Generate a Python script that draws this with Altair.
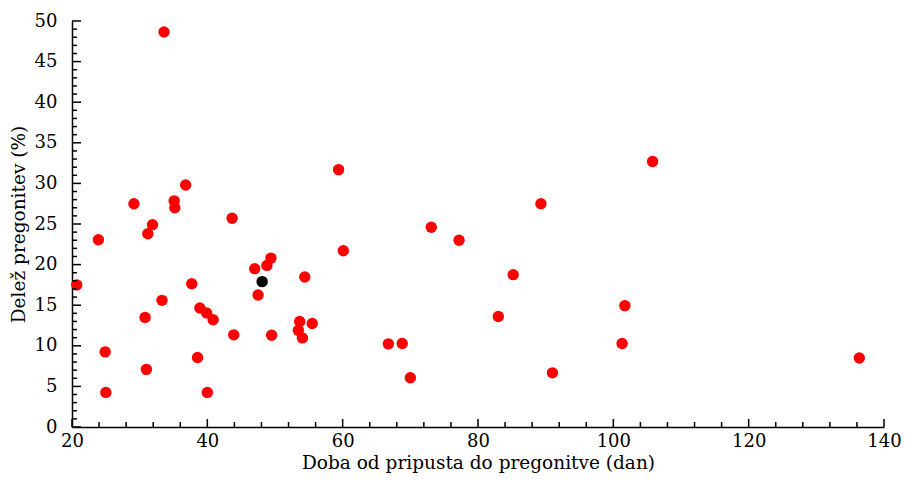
import altair as alt
import pandas as pd

# Red points (days from mating to return, share of returns %)
x_red = [20.7, 23.9, 24.9, 25.0, 29.15, 30.8, 31.0, 31.2, 31.9, 33.3,
         33.6, 35.1, 35.2, 36.8, 37.7, 38.55, 38.9, 39.9, 40.86, 40.0,
         43.66, 43.9, 47.0, 47.5, 48.8, 49.4, 49.5, 53.45, 53.65, 54.05,
         54.4, 55.5, 59.4, 60.1, 66.75, 68.8, 70.0, 73.1, 77.2, 83.0,
         85.2, 89.3, 91.0, 101.3, 101.7, 105.8, 136.35]
y_red = [17.5, 23.06, 9.25, 4.26, 27.5, 13.5, 7.1, 23.8, 24.9, 15.6,
         48.65, 27.85, 27.0, 29.8, 17.65, 8.56, 14.65, 14.05, 13.2, 4.26,
         25.7, 11.35, 19.5, 16.25, 19.9, 20.8, 11.3, 11.9, 13.0, 10.97,
         18.47, 12.74, 31.7, 21.7, 10.24, 10.28, 6.06, 24.6, 23.0, 13.6,
         18.76, 27.5, 6.67, 10.28, 14.95, 32.7, 8.5]
# Black (average) point
x_black = [48.1]
y_black = [17.9]

x_major = [20, 40, 60, 80, 100, 120, 140]
y_major = [0, 5, 10, 15, 20, 25, 30, 35, 40, 45, 50]
x_minor = [v for v in range(24, 140, 4) if v % 20 != 0]
y_minor = [v for v in range(1, 50) if v % 5 != 0]

W, H = 812, 406
FONT = "DejaVu Serif"

pts = pd.DataFrame({
    "x": x_red + x_black,
    "y": y_red + y_black,
    "g": ["red"] * len(x_red) + ["black"] * len(x_black),
})

xs = alt.Scale(domain=[20, 140], nice=False, zero=False)
ys = alt.Scale(domain=[0, 50], nice=False, zero=False)

x_axis = alt.Axis(
    values=x_major, title="Doba od pripusta do pregonitve (dan)",
    grid=False, ticks=False, tickSize=0, labelPadding=5,
    domainColor="black", domainWidth=1.5, labelFontSize=18,
    labelColor="black", titleFontSize=18.5, titleFontWeight="normal",
    titleColor="black", titlePadding=3, labelFlush=False)
y_axis = alt.Axis(
    values=y_major, title="Delež pregonitev (%)",
    grid=False, ticks=False, tickSize=0, labelPadding=15,
    domainColor="black", domainWidth=1.5, labelFontSize=18,
    labelColor="black", titleFontSize=18.5, titleFontWeight="normal",
    titleColor="black", titlePadding=6, labelFlush=False)

points = alt.Chart(pts).mark_circle(size=130, opacity=1).encode(
    x=alt.X("x:Q", scale=xs, axis=x_axis),
    y=alt.Y("y:Q", scale=ys, axis=y_axis),
    color=alt.Color("g:N", scale=alt.Scale(domain=["red", "black"], range=["#ff0000", "#000000"]), legend=None),
)

def yticks(vals, length):
    return alt.Chart(pd.DataFrame({"y": vals})).mark_rule(color="black", strokeWidth=1.5).encode(
        y=alt.Y("y:Q", scale=ys, axis=y_axis),
        x=alt.value(0), x2=alt.value(length))

def xticks(vals, length):
    return alt.Chart(pd.DataFrame({"x": vals})).mark_rule(color="black", strokeWidth=1.5).encode(
        x=alt.X("x:Q", scale=xs, axis=x_axis),
        y=alt.value(H), y2=alt.value(H - length))

chart = alt.layer(
    points,
    yticks(y_major, 9), yticks(y_minor, 5),
    xticks(x_major, 8), xticks(x_minor, 5),
).properties(
    width=W, height=H,
    background="white",
    autosize=alt.AutoSizeParams(type="none"),
    padding={"left": 64, "top": 13, "right": 17, "bottom": 50},
).configure(font=FONT).configure_axis(labelFont=FONT, titleFont=FONT).configure_view(stroke=None)

chart.save("out.html", embed_options={"renderer": "svg", "actions": False})
